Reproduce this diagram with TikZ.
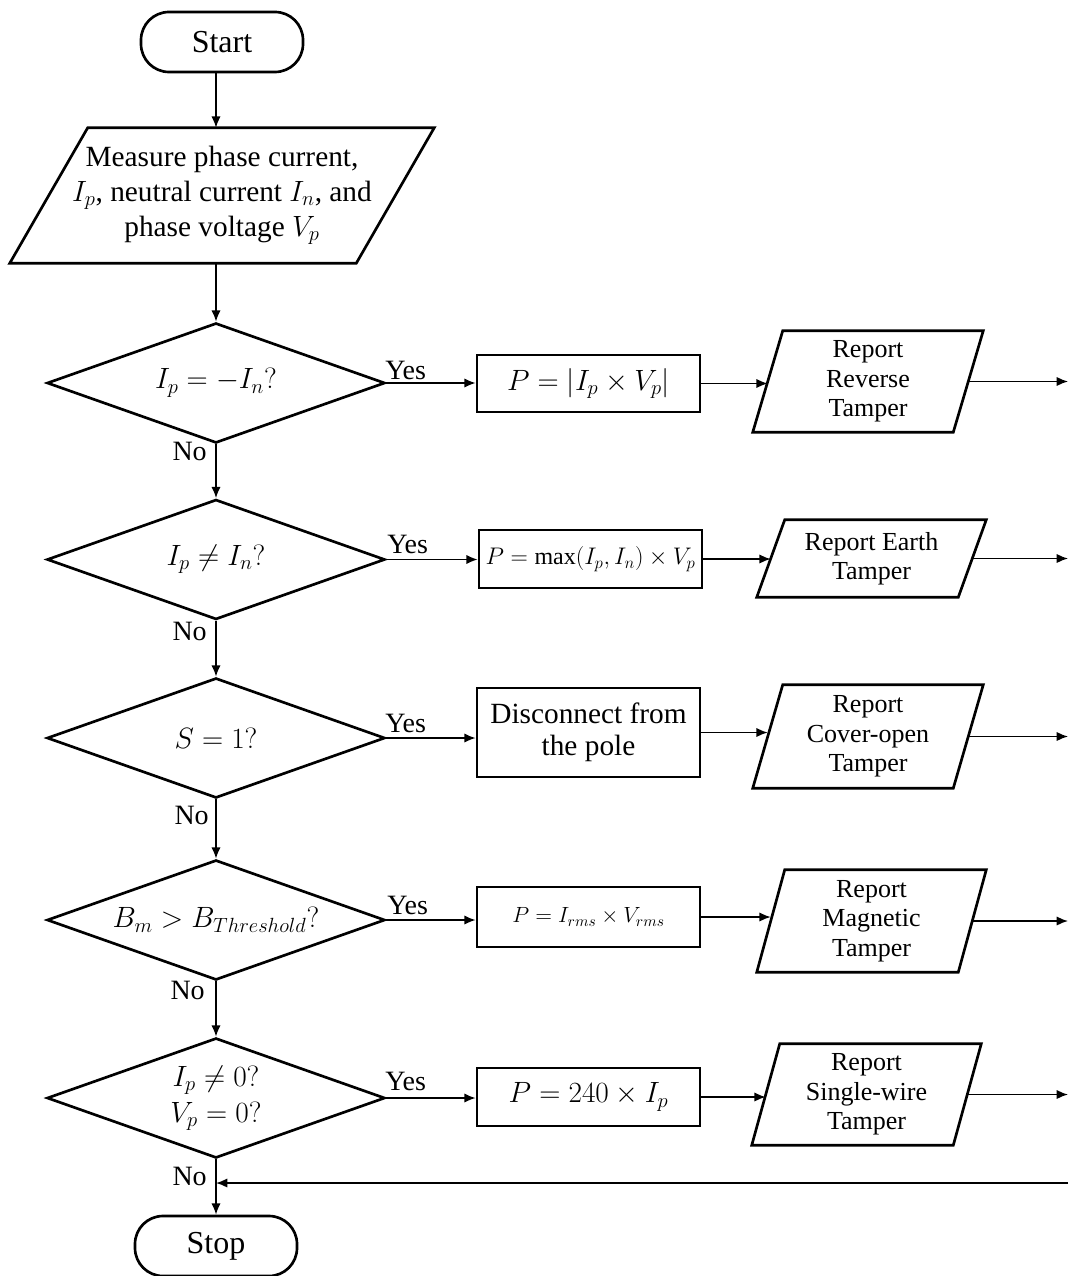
\RequirePackage{fix-cm}
\documentclass[tikz,border=0pt]{standalone}
\usepackage{fontspec}
\setmainfont{Liberation Serif}
\usetikzlibrary{arrows.meta,shapes.geometric,calc}
\begin{document}
\begin{tikzpicture}[x=0.75pt,y=-0.75pt,
  blk/.style={draw,line width=2pt,inner sep=0pt,align=center},
  term/.style={blk,rounded corners=21pt,minimum width=121.5pt,minimum height=45pt,font=\fontsize{24}{28}\selectfont},
  dec/.style={blk,diamond,aspect=2.8,minimum width=253.5pt,minimum height=90pt,font=\fontsize{22}{27}\selectfont},
  pbox/.style={blk,rectangle,minimum width=167.25pt,font=\fontsize{22}{24}\selectfont},
  io/.style={inner sep=0pt,align=center,font=\fontsize{19.5}{22}\selectfont},
  para/.style={line width=2pt},
  conn/.style={line width=1.2pt,-{Latex[length=8.5pt,width=7pt]}},
  lbl/.style={font=\fontsize{21}{24}\selectfont,inner sep=0pt}]
\useasboundingbox (0,0) rectangle (1068,1276);
% main column
\node[term] (start) at (222,42) {Start};
\node[io,minimum width=259.5pt,minimum height=101.25pt,font=\fontsize{22}{26}\selectfont] (in) at (222,195.5)
  {Measure phase current,\\ $I_p$, neutral current $I_n$, and\\ phase voltage $V_p$};
\node[dec] (d1) at (216,383) {$I_p = -I_n?$};
\node[dec] (d2) at (216,559.5) {$I_p \neq I_n?$};
\node[dec] (d3) at (216,738) {$S = 1?$};
\node[dec] (d4) at (216,920) {$B_m > B_{Threshold}?$};
\node[dec] (d5) at (216,1098) {$I_p \neq 0?$\\$V_p = 0?$};
\node[term] (stop) at (216,1246) {Stop};
% process boxes
\node[pbox,minimum height=42.75pt] (b1) at (588.5,383.5) {$P = |I_p \times V_p|$};
\node[pbox,minimum height=43.5pt,font=\fontsize{18}{20}\selectfont] (b2) at (590.5,559) {$P = \max(I_p, I_n) \times V_p$};
\node[pbox,minimum height=66.75pt] (b3) at (588.5,732.5) {Disconnect from\\the pole};
\node[pbox,minimum height=45pt,font=\fontsize{16.5}{19}\selectfont] (b4) at (588.5,917) {$P = I_{rms} \times V_{rms}$};
\node[pbox,minimum height=43.5pt] (b5) at (588.5,1097) {$P = 240 \times I_p$};
% report parallelograms (text nodes)
\node[io,minimum width=150pt,minimum height=75.75pt] (r1) at (868,381.5) {Report\\Reverse\\Tamper};
\node[io,minimum width=150.75pt,minimum height=57.75pt] (r2) at (871.5,558.5) {Report Earth\\Tamper};
\node[io,minimum width=150pt,minimum height=77.25pt] (r3) at (868,736.5) {Report\\Cover-open\\Tamper};
\node[io,minimum width=150.75pt,minimum height=76.5pt] (r4) at (871.5,921) {Report\\Magnetic\\Tamper};
\node[io,minimum width=150.75pt,minimum height=75.75pt] (r5) at (866.5,1094.5) {Report\\Single-wire\\Tamper};
% parallelogram outlines
\draw[para] ($(in.south west)+(-39,0)$) -- ($(in.south east)+(-39,0)$) -- ($(in.north east)+(39,0)$) -- ($(in.north west)+(39,0)$) -- cycle;
\foreach \r/\s in {r1/15,r2/14,r3/15,r4/14,r5/14}{
  \draw[para] ($(\r.south west)+(-\s,0)$) -- ($(\r.south east)+(-\s,0)$) -- ($(\r.north east)+(\s,0)$) -- ($(\r.north west)+(\s,0)$) -- cycle;
}
% right edge
\coordinate (edge) at (1068,0);
\coordinate (ret) at (1068,1183);
% vertical flow
\draw[conn] (start.south -| d1) -- (in.north -| d1);
\draw[conn] (in.south -| d1) -- (d1.north);
\draw[conn] (d1.south) -- (d2.north);
\draw[conn] (d2.south) -- (d3.north);
\draw[conn] (d3.south) -- (d4.north);
\draw[conn] (d4.south) -- (d5.north);
\draw[conn] (d5.south) -- (stop.north);
% yes branches
\foreach \i in {1,...,5}{
  \draw[conn] (d\i.east) -- (d\i.east -| b\i.west);
  \draw[conn] (b\i.east) -- (b\i.east -| r\i.west);
  \draw[conn] (r\i.east) -- (r\i.east -| edge);
}
\draw[conn] (ret) -- (ret -| d5);
% labels
\node[lbl,anchor=base west] (y1) at (385,379) {Yes};
\node[lbl,anchor=base west] (y2) at (387,553) {Yes};
\node[lbl,anchor=base west] (y3) at (385,732) {Yes};
\node[lbl,anchor=base west] (y4) at (387,914) {Yes};
\node[lbl,anchor=base west] (y5) at (385,1090) {Yes};
\node[lbl,anchor=base east] (n1) at (207,460) {No};
\node[lbl,anchor=base east] (n2) at (207,640) {No};
\node[lbl,anchor=base east] (n3) at (209,824) {No};
\node[lbl,anchor=base east] (n4) at (205,999) {No};
\node[lbl,anchor=base east] (n5) at (207,1185) {No};
\end{tikzpicture}
\end{document}
